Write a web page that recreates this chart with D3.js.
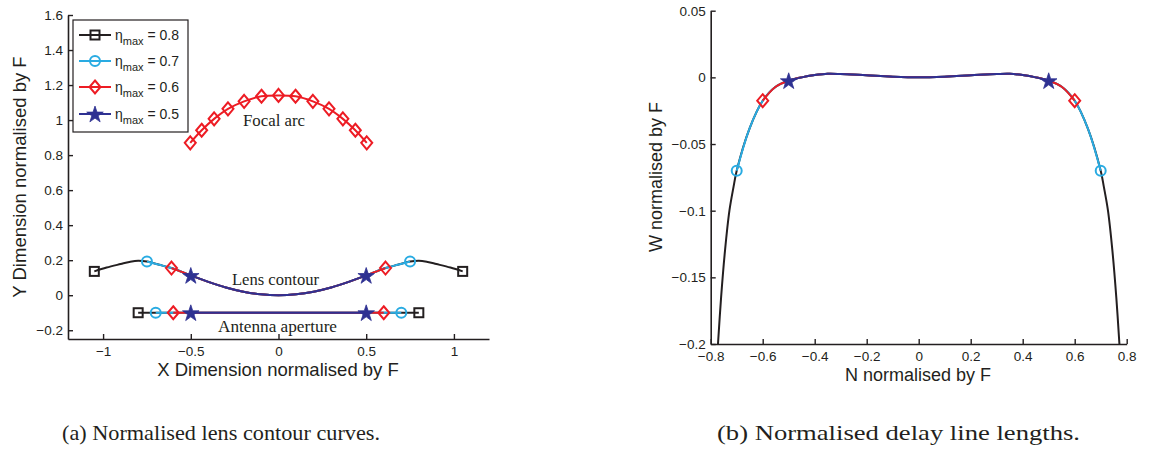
<!DOCTYPE html>
<html><head><meta charset="utf-8">
<script src="https://cdn.jsdelivr.net/npm/d3@7"></script>
<style>body{margin:0;background:#fff} svg{display:block}</style>
</head><body><svg id="c" width="1151" height="450"></svg>
<script>
// ---------- data ----------
const etaMax = ["0.8", "0.7", "0.6", "0.5"];
const seriesColors = ["#231f20", "#29abe2", "#ed1c24", "#2e3192"];
const seriesMarkers = ["square", "circle", "diamond", "star"];

// (a) lens contour (full curve, series are sub-ranges)
const lensX = [-1.05, -0.98, -0.9, -0.85, -0.8, -0.75, -0.68, -0.61, -0.55, -0.5, -0.4, -0.3, -0.2, -0.1, 0,
               0.1, 0.2, 0.3, 0.4, 0.5, 0.55, 0.61, 0.68, 0.75, 0.8, 0.85, 0.9, 0.98, 1.05];
const lensY = [0.136, 0.158, 0.178, 0.19, 0.197, 0.192, 0.174, 0.155, 0.133, 0.113, 0.076, 0.044, 0.02, 0.005, 0,
               0.005, 0.02, 0.044, 0.076, 0.113, 0.133, 0.155, 0.174, 0.192, 0.197, 0.19, 0.178, 0.158, 0.136];
const lensEnd = [1.05, 0.75, 0.61, 0.5];

// (a) antenna aperture
const apertureY = -0.1;
const apertureEnd = [0.8, 0.7, 0.6, 0.5];

// (a) focal arc (eta_max = 0.6)
const focalX = [-0.503, -0.438, -0.367, -0.288, -0.196, -0.097, 0, 0.097, 0.196, 0.288, 0.367, 0.438, 0.503];
const focalY = [0.870, 0.942, 1.007, 1.064, 1.107, 1.136, 1.141, 1.136, 1.107, 1.064, 1.007, 0.942, 0.870];

// (b) delay line lengths
const delayN = [-0.772, -0.76, -0.745, -0.728, -0.712, -0.7, -0.65, -0.6, -0.55, -0.5, -0.45, -0.4, -0.35, -0.3, -0.2, -0.1, 0,
                0.1, 0.2, 0.3, 0.35, 0.4, 0.45, 0.5, 0.55, 0.6, 0.65, 0.7, 0.712, 0.728, 0.745, 0.76, 0.772];
const delayW = [-0.2, -0.165, -0.13, -0.1, -0.082, -0.07, -0.038, -0.0175, -0.007, -0.0025, 0.0, 0.0017, 0.0027, 0.0025, 0.0015, 0.0005, 0,
                0.0005, 0.0015, 0.0025, 0.0027, 0.0017, 0.0, -0.0025, -0.007, -0.0175, -0.038, -0.07, -0.082, -0.1, -0.13, -0.165, -0.2];
const delayEnd = [0.772, 0.7, 0.6, 0.5];

const xTicksA = [-1, -0.5, 0, 0.5, 1];
const yTicksA = [-0.2, 0, 0.2, 0.4, 0.6, 0.8, 1, 1.2, 1.4, 1.6];
const xTicksB = [-0.8, -0.6, -0.4, -0.2, 0, 0.2, 0.4, 0.6, 0.8];
const yTicksB = [0.05, 0, -0.05, -0.1, -0.15, -0.2];

const captions = ["(a) Normalised lens contour curves.", "(b) Normalised delay line lengths."];

// ---------- helpers ----------
const svg = d3.select("#c");
svg.append("rect").attr("width", 1151).attr("height", 450).attr("fill", "#fff");
const fmt = d => d < 0 ? "\u2212" + String(Math.abs(d)) : String(d);
const SANS = "'Liberation Sans', Arial, Helvetica, sans-serif";
const SERIF = "'Liberation Serif', 'DejaVu Serif', serif";
const TXT = "#231f20";

function marker(g, type, x, y, color) {
  if (type === "square") {
    g.append("rect").attr("x", x - 4.5).attr("y", y - 4.5).attr("width", 9).attr("height", 9)
      .attr("fill", "none").attr("stroke", color).attr("stroke-width", 2);
  } else if (type === "circle") {
    g.append("circle").attr("cx", x).attr("cy", y).attr("r", 5)
      .attr("fill", "none").attr("stroke", color).attr("stroke-width", 2);
  } else if (type === "diamond") {
    g.append("path").attr("d", `M${x},${y - 6.5}L${x + 5.5},${y}L${x},${y + 6.5}L${x - 5.5},${y}Z`)
      .attr("fill", "none").attr("stroke", color).attr("stroke-width", 2);
  } else {
    g.append("path").attr("d", d3.symbol(d3.symbolStar, 85)())
      .attr("transform", `translate(${x},${y + 0.8})`)
      .attr("fill", color).attr("stroke", color).attr("stroke-width", 0.8);
  }
}

function axes(g, x, y, xt, yt, xpad) {
  const ax = g.append("g").attr("transform", `translate(0,${y.range()[0]})`)
    .call(d3.axisBottom(x).tickValues(xt).tickFormat(fmt).tickSizeInner(-5).tickSizeOuter(0).tickPadding(xpad));
  const ay = g.append("g").attr("transform", `translate(${x.range()[0]},0)`)
    .call(d3.axisLeft(y).tickValues(yt).tickFormat(fmt).tickSizeInner(-5).tickSizeOuter(0).tickPadding(5));
  [ax, ay].forEach(a => {
    a.select(".domain").attr("stroke", TXT).attr("stroke-width", 1.6);
    a.selectAll(".tick line").attr("stroke", TXT).attr("stroke-width", 1.4);
    a.selectAll("text").attr("font-family", SANS).attr("font-size", 13.5).attr("fill", TXT);
  });
}

// ---------- (a) ----------
const xA = d3.scaleLinear().domain([-1.2, 1.2]).range([68, 489]);
const yA = d3.scaleLinear().domain([-0.25, 1.6]).range([339, 15]);
const gA = svg.append("g");
axes(gA, xA, yA, xTicksA, yTicksA, 7.5);

const lineA = d3.line().x(d => xA(d[0])).y(d => yA(d[1])).curve(d3.curveCatmullRom.alpha(0.5));
const lineLin = d3.line().x(d => xA(d[0])).y(d => yA(d[1]));
const lensPts = lensX.map((v, i) => [v, lensY[i]]);

etaMax.forEach((e, s) => {
  const col = seriesColors[s];
  const pts = lensPts.filter(p => Math.abs(p[0]) <= lensEnd[s] + 1e-9);
  gA.append("path").attr("d", lineA(pts)).attr("fill", "none").attr("stroke", col).attr("stroke-width", 2);
  const ap = [[-apertureEnd[s], apertureY], [apertureEnd[s], apertureY]];
  gA.append("path").attr("d", lineLin(ap)).attr("fill", "none").attr("stroke", col).attr("stroke-width", 2);
  [pts[0], pts[pts.length - 1], ap[0], ap[1]].forEach(p => marker(gA, seriesMarkers[s], xA(p[0]), yA(p[1]), col));
});

// focal arc
const focalPts = focalX.map((v, i) => [v, focalY[i]]);
gA.append("path").attr("d", lineA(focalPts)).attr("fill", "none").attr("stroke", seriesColors[2]).attr("stroke-width", 2);
focalPts.forEach(p => marker(gA, "diamond", xA(p[0]), yA(p[1]), seriesColors[2]));

// annotations
[["Focal arc", 243, 126, 62], ["Lens contour", 232, 285, 87], ["Antenna aperture", 218, 332, 119]].forEach(a => {
  gA.append("text").attr("x", a[1]).attr("y", a[2])
    .attr("font-family", SERIF).attr("font-size", 16).attr("fill", TXT)
    .attr("textLength", a[3]).attr("lengthAdjust", "spacingAndGlyphs").text(a[0]);
});

// legend
const lg = gA.append("g");
lg.append("rect").attr("x", 73).attr("y", 20).attr("width", 115).attr("height", 112)
  .attr("fill", "#fff").attr("stroke", TXT).attr("stroke-width", 1.2);
const legY = [35, 61, 87, 114];
etaMax.forEach((e, s) => {
  const col = seriesColors[s];
  lg.append("line").attr("x1", 79).attr("x2", 111).attr("y1", legY[s]).attr("y2", legY[s])
    .attr("stroke", col).attr("stroke-width", 2);
  marker(lg, seriesMarkers[s], 95, legY[s], col);
  const t = lg.append("text").attr("x", 115).attr("y", legY[s] + 5)
    .attr("font-family", SANS).attr("font-size", 14).attr("fill", TXT);
  t.append("tspan").text("\u03b7");
  t.append("tspan").attr("font-size", 11).attr("dy", 5).text("max");
  t.append("tspan").attr("dy", -5).text(" = " + e);
});

// axis labels
gA.append("text").attr("x", 278).attr("y", 376).attr("text-anchor", "middle")
  .attr("font-family", SANS).attr("font-size", 18.5).attr("fill", TXT).text("X Dimension normalised by F");
gA.append("text").attr("transform", "translate(26,177) rotate(-90)").attr("text-anchor", "middle")
  .attr("font-family", SANS).attr("font-size", 18.5).attr("fill", TXT).text("Y Dimension normalised by F");

// ---------- (b) ----------
const xB = d3.scaleLinear().domain([-0.8, 0.8]).range([710.7, 1126.7]);
const yB = d3.scaleLinear().domain([-0.2, 0.05]).range([344, 10.7]);
const gB = svg.append("g");
axes(gB, xB, yB, xTicksB, yTicksB, 7.5);

const lineB = d3.line().x(d => xB(d[0])).y(d => yB(d[1])).curve(d3.curveCatmullRom.alpha(0.5));
const delayPts = delayN.map((v, i) => [v, delayW[i]]);
etaMax.forEach((e, s) => {
  const col = seriesColors[s];
  const pts = delayPts.filter(p => Math.abs(p[0]) <= delayEnd[s] + 1e-9);
  gB.append("path").attr("d", lineB(pts)).attr("fill", "none").attr("stroke", col).attr("stroke-width", 2);
  [pts[0], pts[pts.length - 1]].forEach(p => {
    if (p[1] > yB.domain()[0]) marker(gB, seriesMarkers[s], xB(p[0]), yB(p[1]), col);
  });
});

gB.append("text").attr("x", 918).attr("y", 381).attr("text-anchor", "middle")
  .attr("font-family", SANS).attr("font-size", 18).attr("fill", TXT).text("N normalised by F");
gB.append("text").attr("transform", "translate(662,177) rotate(-90)").attr("text-anchor", "middle")
  .attr("font-family", SANS).attr("font-size", 18).attr("fill", TXT).text("W normalised by F");

// ---------- captions ----------
[[captions[0], 62, 318], [captions[1], 717, 363]].forEach(c => {
  svg.append("text").attr("x", c[1]).attr("y", 440).attr("font-family", SERIF).attr("font-size", 22)
    .attr("fill", TXT).attr("textLength", c[2]).attr("lengthAdjust", "spacingAndGlyphs").text(c[0]);
});
</script></body></html>
